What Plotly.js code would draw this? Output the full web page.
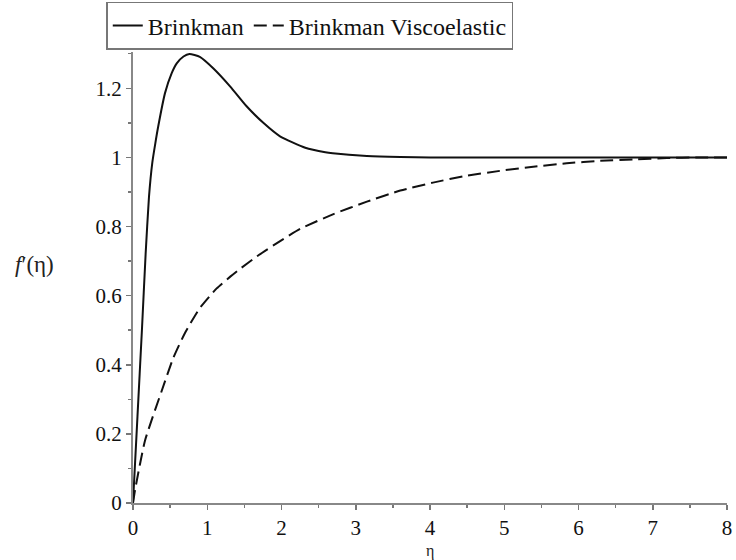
<!DOCTYPE html>
<html>
<head>
<meta charset="utf-8">
<script src="https://cdn.plot.ly/plotly-3.0.1.min.js"></script>
<style>html,body{margin:0;padding:0;background:#fff;}#chart{width:736px;height:560px;}</style>
</head>
<body>
<div id="chart"></div>
<script>
// Brinkman (solid)
var brinkmanEta = [0, 0.06, 0.12, 0.17, 0.215, 0.26, 0.30, 0.34, 0.431, 0.52, 0.589, 0.68, 0.76, 0.90, 1.08, 1.31, 1.53, 1.755, 1.98, 2.32, 2.59, 2.69, 3.15, 3.6, 4.0, 5.0, 6.0, 7.0, 8.0];
var brinkmanF  = [0, 0.25, 0.50, 0.72, 0.885, 0.985, 1.04, 1.09, 1.186, 1.243, 1.272, 1.292, 1.299, 1.291, 1.258, 1.205, 1.148, 1.10, 1.061, 1.028, 1.015, 1.012, 1.004, 1.001, 1.0, 1.0, 1.0, 1.0, 1.0];
// Brinkman Viscoelastic (dashed)
var viscoEta = [0, 0.027, 0.162, 0.386, 0.543, 0.70, 0.90, 1.127, 1.31, 1.42, 1.69, 1.96, 2.25, 2.70, 3.15, 3.6, 4.04, 4.49, 4.94, 5.39, 5.84, 6.29, 6.74, 7.19, 7.6, 8.0];
var viscoF   = [0, 0.037, 0.181, 0.324, 0.42, 0.492, 0.564, 0.621, 0.655, 0.674, 0.717, 0.755, 0.793, 0.836, 0.872, 0.904, 0.927, 0.947, 0.961, 0.973, 0.983, 0.99, 0.994, 0.998, 1.0, 1.0];
var seriesNames = ["Brinkman", "Brinkman Viscoelastic"];
var xTicks = [0, 1, 2, 3, 4, 5, 6, 7, 8];
var yTicks = [0, 0.2, 0.4, 0.6, 0.8, 1, 1.2];
var yTickText = ["0", "0.2", "0.4", "0.6", "0.8", "1", "1.2"];

var traces = [
  {x: brinkmanEta, y: brinkmanF, name: seriesNames[0], mode: "lines",
   line: {color: "#111", width: 2, shape: "spline", smoothing: 0.5}},
  {x: viscoEta, y: viscoF, name: seriesNames[1], mode: "lines",
   line: {color: "#111", width: 2, dash: "13px,6px", shape: "spline", smoothing: 0.5}}
];
function mkAxis(extra) {
  var a = {
    showline: true, linecolor: "#888", linewidth: 2, zeroline: false, showgrid: false,
    ticks: "outside", ticklen: 5, tickwidth: 1.5, tickcolor: "#777",
    tickfont: {family: "Liberation Serif", size: 21, color: "#111"}
  };
  for (var k in extra) a[k] = extra[k];
  return a;
}
var layout = {
  width: 736, height: 560,
  font: {family: "Liberation Serif", size: 20, color: "#111"},
  margin: {l: 133, r: 9, t: 52, b: 57, autoexpand: false},
  paper_bgcolor: "#fff", plot_bgcolor: "#fff",
  showlegend: true,
  legend: {orientation: "h", x: -0.045, xanchor: "left", y: 1.058, yanchor: "middle",
           bordercolor: "#777", borderwidth: 1.5, bgcolor: "#fff", tracegroupgap: 0,
           font: {family: "Liberation Serif", size: 24, color: "#111"}, traceorder: "normal"},
  xaxis: mkAxis({range: [0, 8], tickvals: xTicks, ticktext: xTicks.map(String),
           minor: {dtick: 0.5, ticks: "outside", ticklen: 3, tickcolor: "#777", tickwidth: 1.5}}),
  yaxis: mkAxis({range: [0, 1.305], tickvals: yTicks, ticktext: yTickText,
           minor: {dtick: 0.1, ticks: "outside", ticklen: 3, tickcolor: "#777", tickwidth: 1.5}}),
  annotations: [
    {text: "η", xref: "paper", yref: "paper", x: 0.5, y: -0.106, xanchor: "center", yanchor: "middle",
     showarrow: false, font: {family: "Liberation Serif", size: 16, color: "#222"}},
    {text: "<i>f</i>′(η)", xref: "paper", yref: "paper", x: -0.165, y: 0.528, xanchor: "center", yanchor: "middle",
     showarrow: false, font: {family: "Liberation Serif", size: 23, color: "#222"}}
  ]
};
Plotly.newPlot("chart", traces, layout, {staticPlot: true, displayModeBar: false});
</script>
</body>
</html>
